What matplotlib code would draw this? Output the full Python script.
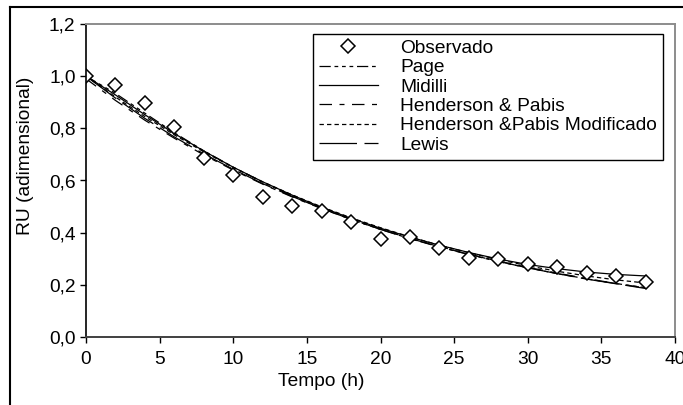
import numpy as np
import matplotlib.pyplot as plt
from matplotlib.lines import Line2D

plt.rcParams['font.family'] = ['Liberation Sans', 'DejaVu Sans']

# tempo de secagem (h)
tempo = [0, 2, 4, 6, 8, 10, 12, 14, 16, 18, 20, 22, 24, 26, 28, 30, 32, 34, 36, 38]

# razao de umidade observada
observado = [1.000, 0.966, 0.896, 0.805, 0.686, 0.621, 0.538, 0.502, 0.483, 0.442,
             0.376, 0.382, 0.342, 0.304, 0.298, 0.280, 0.270, 0.244, 0.234, 0.212]

# valores estimados pelos modelos
page = [1.000, 0.934, 0.858, 0.783, 0.714, 0.651, 0.593, 0.541, 0.494, 0.451,
        0.412, 0.377, 0.345, 0.316, 0.289, 0.265, 0.243, 0.223, 0.205, 0.189]
midilli = [1.000, 0.928, 0.852, 0.780, 0.713, 0.651, 0.595, 0.544, 0.497, 0.455,
           0.417, 0.383, 0.352, 0.324, 0.299, 0.278, 0.262, 0.249, 0.240, 0.234]
henderson = [0.990, 0.907, 0.831, 0.762, 0.698, 0.640, 0.586, 0.537, 0.492, 0.451,
             0.413, 0.379, 0.347, 0.318, 0.291, 0.267, 0.245, 0.224, 0.205, 0.188]
henderson_mod = [1.000, 0.920, 0.845, 0.775, 0.710, 0.650, 0.595, 0.545, 0.499, 0.457,
                 0.419, 0.384, 0.352, 0.323, 0.297, 0.273, 0.252, 0.234, 0.219, 0.207]
lewis = [1.000, 0.916, 0.838, 0.767, 0.702, 0.643, 0.588, 0.539, 0.493, 0.451,
         0.413, 0.378, 0.346, 0.317, 0.290, 0.265, 0.243, 0.222, 0.204, 0.186]

xticks = [0, 5, 10, 15, 20, 25, 30, 35, 40]
yticks = [0.0, 0.2, 0.4, 0.6, 0.8, 1.0, 1.2]
ytick_labels = ['0,0', '0,2', '0,4', '0,6', '0,8', '1,0', '1,2']

FS = 13.8
W, H = 683, 405
fig = plt.figure(figsize=(W / 100, H / 100), dpi=100)
ax = fig.add_axes([86 / W, 1 - 337 / H, (675 - 86) / W, (337 - 24) / H])

ax.plot(tempo, page, color='black', lw=0.9, dashes=[9, 3, 3, 3, 3, 3, 3, 3], label='Page')
ax.plot(tempo, midilli, color='black', lw=0.9, label='Midilli')
ax.plot(tempo, henderson, color='black', lw=0.9, dashes=[10, 6, 4, 6], label='Henderson & Pabis')
ax.plot(tempo, henderson_mod, color='black', lw=0.9, dashes=[3.5, 2.5], label='Henderson &Pabis Modificado')
ax.plot(tempo, lewis, color='black', lw=0.9, dashes=[30, 6], label='Lewis')
ax.plot(tempo, observado, ls='none', marker='D', ms=7, mfc='white', mec='black', mew=1.1,
        label='Observado')

ax.set_xlim(0, 40)
ax.set_ylim(0, 1.2)
ax.set_xticks(xticks)
ax.set_yticks(yticks)
ax.set_yticklabels(ytick_labels)
ax.tick_params(axis='both', direction='out', labelsize=FS, colors='black')
ax.tick_params(axis='y', length=4.5, width=1, pad=3)
ax.tick_params(axis='x', length=4, width=1, pad=6)

ax.spines['left'].set_color('black')
ax.spines['left'].set_linewidth(1.2)
ax.spines['bottom'].set_color('#404040')
ax.spines['bottom'].set_linewidth(1.4)
for s in ('top', 'right'):
    ax.spines[s].set_color('#8c8c8c')
    ax.spines[s].set_linewidth(1.4)

ax.set_xlabel('Tempo (h)', fontsize=FS, va='center')
ax.xaxis.set_label_coords((321 - 86) / 589, (337 - 382) / 313)
ax.set_ylabel('RU (adimensional)', fontsize=FS, va='center', ha='center')
ax.yaxis.set_label_coords((26 - 86) / 589, (337 - 156) / 313)

# legenda: marcador primeiro, depois os modelos
handles, labels = ax.get_legend_handles_labels()
order = [5, 0, 1, 2, 3, 4]
leg = ax.legend([handles[i] for i in order], [labels[i] for i in order],
                loc='upper left', bbox_to_anchor=(313 / W, 1 - 34 / H),
                bbox_transform=fig.transFigure, fontsize=FS, frameon=True,
                fancybox=False, edgecolor='black', framealpha=1, borderpad=0.3,
                labelspacing=0.1, handlelength=3.1, handletextpad=1.15,
                borderaxespad=0, numpoints=1)
leg.get_frame().set_linewidth(1.0)

# moldura do grafico
fig.add_artist(Line2D([10 / W, 10 / W], [0, 1 - 7 / H], color='black', lw=1.5,
                      transform=fig.transFigure))
fig.add_artist(Line2D([10 / W, 1], [1 - 7 / H, 1 - 7 / H], color='black', lw=1.5,
                      transform=fig.transFigure))

fig.savefig('out.png', dpi=100)
